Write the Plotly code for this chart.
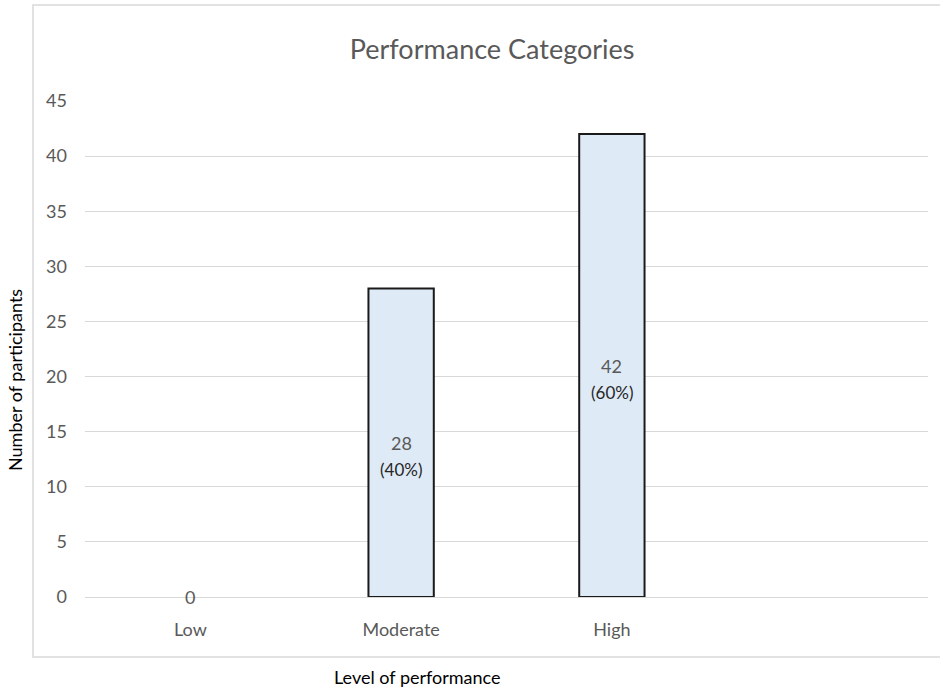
import plotly.graph_objects as go

# Performance level counts
levels = ["Low", "Moderate", "High"]
participants = [0, 28, 42]
percent_labels = ["", "(40%)", "(60%)"]
y_ticks = [0, 5, 10, 15, 20, 25, 30, 35, 40, 45]

FONT = "Lato"
GRID = "#D9D9D9"
TICK = "#595959"

fig = go.Figure()
fig.add_trace(go.Bar(
    x=levels,
    y=participants,
    width=0.31,
    marker=dict(color="#DEEAF6",
                line=dict(color="#1a1a1a", width=[2 if v > 0 else 0 for v in participants])),
    hoverinfo="x+y",
))

# Count labels at mid-height of each bar, percentage beneath
for lvl, val, pct in zip(levels, participants, percent_labels):
    fig.add_annotation(x=lvl, y=val / 2, text=str(val), showarrow=False,
                       font=dict(family=FONT, size=18, color=TICK),
                       xanchor="center", yanchor="middle")
    if pct:
        fig.add_annotation(x=lvl, y=val / 2, text=pct, showarrow=False,
                           font=dict(family=FONT, size=17, color="#262626"),
                           xanchor="center", yanchor="middle", yshift=-27)

# Axis titles outside the framed area
fig.add_annotation(xref="paper", yref="paper", x=-0.083, y=0.4375,
                   text="Number of participants", textangle=-90, showarrow=False,
                   font=dict(family=FONT, size=18, color="#000000"),
                   xanchor="center", yanchor="middle")
fig.add_annotation(xref="paper", yref="paper", x=0.394, y=-0.161,
                   text="Level of performance", showarrow=False,
                   font=dict(family=FONT, size=18, color="#000000"),
                   xanchor="center", yanchor="middle")

# Chart frame
fig.add_shape(type="rect", xref="paper", yref="paper",
              x0=-0.0617, x1=1.03, y0=-0.121, y1=1.1935,
              line=dict(color=GRID, width=1.5), fillcolor="rgba(0,0,0,0)", layer="below")

fig.update_layout(
    width=940, height=689,
    margin=dict(l=85, r=12, t=101, b=92),
    paper_bgcolor="white", plot_bgcolor="white",
    showlegend=False,
    title=dict(text="Performance Categories", x=0.483, xref="paper",
               y=1 - 50 / 689, yref="container", xanchor="center", yanchor="middle",
               font=dict(family=FONT, size=27, color=TICK)),
    xaxis=dict(type="category", range=[-0.5, 3.5], showgrid=False, showline=False,
               zeroline=False, ticks="", ticklabelstandoff=20,
               tickfont=dict(family=FONT, size=18, color=TICK)),
    yaxis=dict(range=[0, 45], tickvals=y_ticks, showgrid=True, gridcolor=GRID, gridwidth=1.3,
               zeroline=True, zerolinecolor=GRID, zerolinewidth=1.3, showline=False,
               ticks="", ticklabelstandoff=17,
               tickfont=dict(family=FONT, size=18, color=TICK)),
)

fig.write_html("out.html")
